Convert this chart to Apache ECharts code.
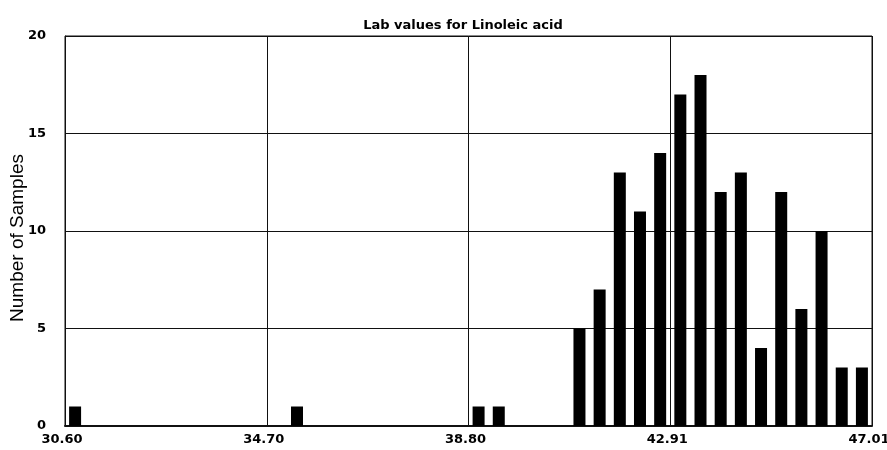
<!DOCTYPE html>
<html>
<head>
<meta charset="utf-8">
<script src="https://cdn.jsdelivr.net/npm/echarts@6/dist/echarts.min.js"></script>
<style>
  html, body { margin: 0; padding: 0; background: #fff; }
  #chart { width: 887px; height: 450px; }
</style>
</head>
<body>
<div id="chart"></div>
<script>
// histogram: 40 bins between 30.60 and 47.01
const binCount = 40;
const xTickLabels = ['30.60', '34.70', '38.80', '42.91', '47.01'];
const yTickLabels = ['0', '5', '10', '15', '20'];
const binIndex = [0, 11, 20, 21, 25, 26, 27, 28, 29, 30, 31, 32, 33, 34, 35, 36, 37, 38, 39];
const sampleCounts = [1, 1, 1, 1, 5, 7, 13, 11, 14, 17, 18, 12, 13, 4, 12, 6, 10, 3, 3];

const barData = binIndex.map((b, i) => [b + 0.5, sampleCounts[i]]);

const myChart = echarts.init(document.getElementById('chart'));
const option = {
  animation: false,
  backgroundColor: '#fff',
  title: {
    text: 'Lab values for Linoleic acid',
    left: 458,
    top: 14,
    textAlign: 'center',
    textStyle: { fontFamily: 'DejaVu Sans', fontWeight: 'bold', fontSize: 13, color: '#000' }
  },
  grid: {
    left: 65, right: 15, top: 36, bottom: 24,
    outerBoundsMode: 'none',
    show: true, borderColor: '#111', borderWidth: 1
  },
  xAxis: {
    type: 'value',
    min: 0,
    max: binCount,
    interval: 10,
    axisLine: { show: true, lineStyle: { color: '#111', width: 2 } },
    axisTick: { show: false },
    splitLine: { show: true, lineStyle: { color: '#111', width: 1 } },
    axisLabel: {
      margin: 7,
      padding: [0, 6, 0, 0],
      fontFamily: 'DejaVu Sans', fontWeight: 'bold', fontSize: 13, color: '#000',
      formatter: v => xTickLabels[Math.round(v / 10)]
    }
  },
  yAxis: {
    type: 'value',
    min: 0,
    max: 20,
    interval: 5,
    name: 'Number of Samples',
    nameLocation: 'middle',
    nameGap: 38,
    nameMoveOverlap: false,
    nameTextStyle: { fontFamily: 'Liberation Sans', fontSize: 19, color: '#000', padding: [0, 14, 0, 0] },
    axisLine: { show: true, lineStyle: { color: '#111' } },
    axisTick: { show: false },
    splitLine: { show: true, lineStyle: { color: '#111', width: 1 } },
    axisLabel: {
      margin: 19,
      fontFamily: 'DejaVu Sans', fontWeight: 'bold', fontSize: 13, color: '#000',
      formatter: v => yTickLabels[Math.round(v / 5)]
    }
  },
  series: [{
    type: 'bar',
    data: barData,
    barWidth: 12,
    itemStyle: { color: '#000' }
  }]
};
myChart.setOption(option);
window.addEventListener('resize', function () { myChart.resize(); });
</script>
</body>
</html>
